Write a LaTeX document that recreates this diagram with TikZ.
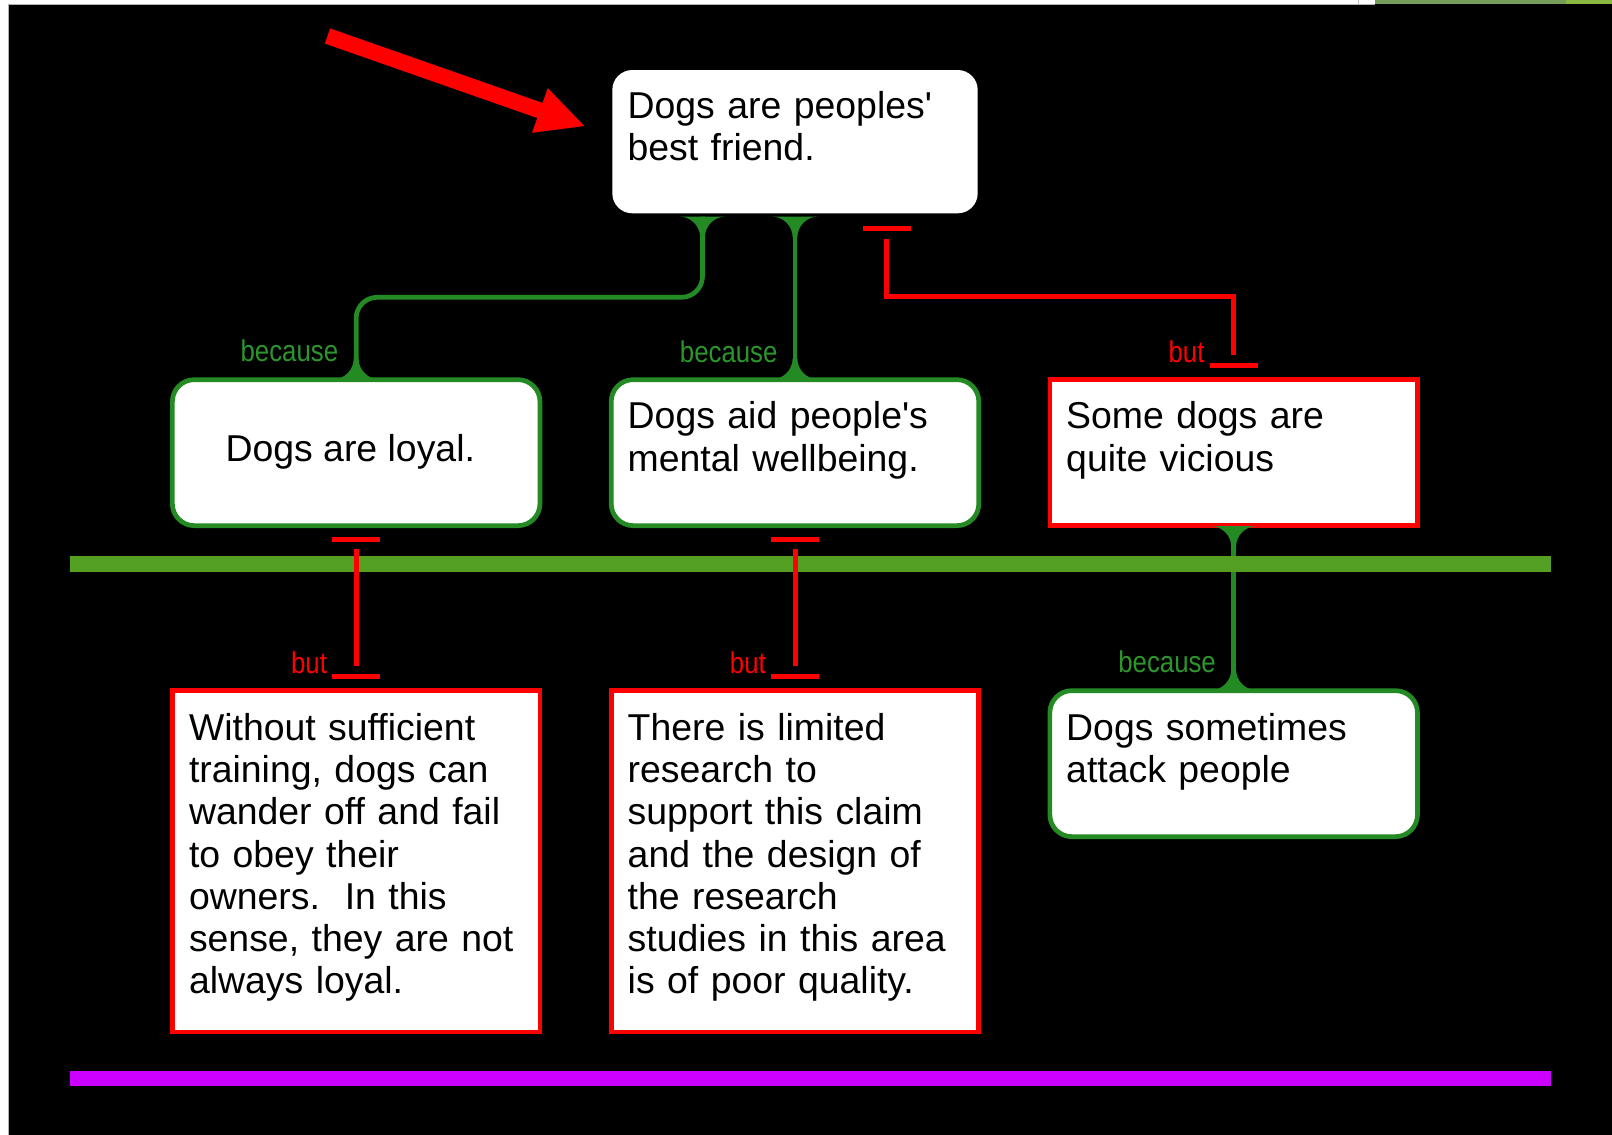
\documentclass[tikz,border=0pt]{standalone}
\usepackage{fontspec}
\setmainfont{Liberation Sans}
\newfontfamily\narrowfont[FakeStretch=0.86]{Liberation Sans}
\usetikzlibrary{calc}
\definecolor{cgreen}{RGB}{36,138,36}
\definecolor{lgreen}{RGB}{44,150,44}
\definecolor{bandgreen}{RGB}{83,160,34}
\definecolor{cpurple}{RGB}{204,0,255}
\definecolor{topgreenA}{RGB}{118,158,88}
\definecolor{topgreenB}{RGB}{138,184,64}
\tikzset{
  rootbox/.style={fill=white, rounded corners=20pt, minimum width=365.4pt, minimum height=143.3pt, inner sep=0pt},
  gbox/.style={draw=cgreen, line width=4.7pt, fill=white, rounded corners=22pt, minimum width=367.6pt, minimum height=146pt, inner sep=0pt},
  rbox/.style={draw=red, line width=4.7pt, fill=white, minimum width=367.6pt, minimum height=146pt, inner sep=0pt},
  rboxtall/.style={rbox, minimum height=341.3pt},
  txt/.style={inner sep=0pt, anchor=base west, text width=420pt, align=left, font=\fontsize{37.4}{42.2}\selectfont},
  ctxt/.style={inner sep=0pt, anchor=base, font=\fontsize{37.4}{42.2}\selectfont},
  gline/.style={draw=cgreen, line width=4.7pt},
  rline/.style={draw=red, line width=5pt},
  glabel/.style={inner sep=0pt, anchor=base east, text=lgreen, font=\narrowfont\fontsize{30}{36}\selectfont},
  rlabel/.style={inner sep=0pt, anchor=base east, text=red, font=\narrowfont\fontsize{30}{36}\selectfont},
}
\newcommand\flare[2]{%
  \fill[cgreen] ($(#1)+(-23.35,0)$) .. controls ($(#1)+(-11.75,0)$) and ($(#1)+(-2.35,{#2*9.4})$) .. ($(#1)+(-2.35,{#2*21})$)
    -- ($(#1)+(2.35,{#2*21})$) .. controls ($(#1)+(2.35,{#2*9.4})$) and ($(#1)+(11.75,0)$) .. ($(#1)+(23.35,0)$) -- cycle;}
\begin{document}
\begin{tikzpicture}[x=1pt, y=-1pt]
\useasboundingbox (0,0) rectangle (1612,1135);
% background
\fill[white] (0,0) rectangle (1612,1135);
\fill[black] (8.7,4.3) rectangle (1612,1135);
\draw[gray!60, line width=0.8pt] (8.7,1135) -- (8.7,4.3) -- (1375,4.3);
\fill[topgreenA] (1375,0) rectangle (1566,4.3);
\fill[topgreenB] (1566,0) rectangle (1612,4.3);
\draw[gray!50, line width=1pt] (1358,0) -- (1358,4.3);

% big red pointer arrow
\fill[red] (324.85,43.55) -- (537.25,118.0) -- (532.06,132.8) -- (584.3,126) -- (547.74,88.08) -- (542.55,102.9) -- (330.15,28.45) -- cycle;

% boxes
\node[rootbox] (root) at (795,141.65) {};
\node[gbox] (loyal) at (356.15,452.65) {};
\node[gbox] (mental) at (795,452.65) {};
\node[rbox] (vicious) at (1233.65,452.65) {};
\node[rboxtall] (without) at (356.15,861.3) {};
\node[rboxtall] (limited) at (795,861.3) {};
\node[gbox] (attack) at (1233.65,763.65) {};

% texts
\node[txt] (root-t) at (627.4,118.3) {Dogs are peoples\textquotesingle\\best friend.};
\node[ctxt] (loyal-t) at (350.3,461.7) {Dogs are loyal.};
\node[txt] (mental-t) at (627.5,428.8) {Dogs aid people\textquotesingle s\\mental wellbeing.};
\node[txt] (vicious-t) at (1066,428.8) {Some dogs are\\quite vicious};
\node[txt] (without-t) at (188.8,740.5) {Without sufficient\\training, dogs can\\wander off and fail\\to obey their\\owners.~~In this\\sense, they are not\\always loyal.};
\node[txt] (limited-t) at (627.5,740.5) {There is limited\\research to\\support this claim\\and the design of\\the research\\studies in this area\\is of poor quality.};
\node[txt] (attack-t) at (1066,740.5) {Dogs sometimes\\attack people};

% green (because) connectors
\draw[gline, rounded corners=21pt] ($(root.south)+(-92.5,3)$) |- ($(loyal.north)+(0,-80)$) -- (loyal.north);
\flare{$(root.south)+(-92.5,3)$}{1}
\flare{$(loyal.north)+(0,2)$}{-1}
\draw[gline] ($(root.south)+(0,3)$) -- (mental.north);
\flare{$(root.south)+(0,3)$}{1}
\flare{$(mental.north)+(0,2)$}{-1}
\draw[gline] (vicious.south) -- (attack.north);
\flare{$(vicious.south)+(0,-2)$}{1}
\flare{$(attack.north)+(0,2)$}{-1}

% band lines
\fill[bandgreen] (70,556) rectangle (1551,572);
\fill[cpurple] (70,1071) rectangle (1551,1086);

% red (but) connectors
\draw[rline] ($(root.south)+(91.5,25)$) |- ($(vicious.north)+(0,-81)$) -- ($(vicious.north)+(0,-22)$);
\draw[rline] ($(root.south)+(68,15.2)$) -- ++(48,0);
\draw[rline] ($(vicious.north)+(-24,-12.3)$) -- ++(48,0);

\draw[rline] ($(loyal.south)+(0,20.5)$) -- ($(without.north)+(0,-22)$);
\draw[rline] ($(loyal.south)+(-24,11)$) -- ++(48,0);
\draw[rline] ($(without.north)+(-24,-12.3)$) -- ++(48,0);

\draw[rline] ($(mental.south)+(0,20.5)$) -- ($(limited.north)+(0,-22)$);
\draw[rline] ($(mental.south)+(-24,11)$) -- ++(48,0);
\draw[rline] ($(limited.north)+(-24,-12.3)$) -- ++(48,0);

% labels
\node[glabel] (lb1) at ($(loyal.north)+(-17.8,-15.6)$) {because};
\node[glabel] (lb2) at ($(mental.north)+(-17.3,-15)$) {because};
\node[glabel] (lb3) at ($(attack.north)+(-17.6,-15.6)$) {because};
\node[rlabel] (lb4) at ($(vicious.north)+(-29,-14.9)$) {but};
\node[rlabel] (lb5) at ($(without.north)+(-29,-14.6)$) {but};
\node[rlabel] (lb6) at ($(limited.north)+(-29,-14.6)$) {but};
\end{tikzpicture}
\end{document}
